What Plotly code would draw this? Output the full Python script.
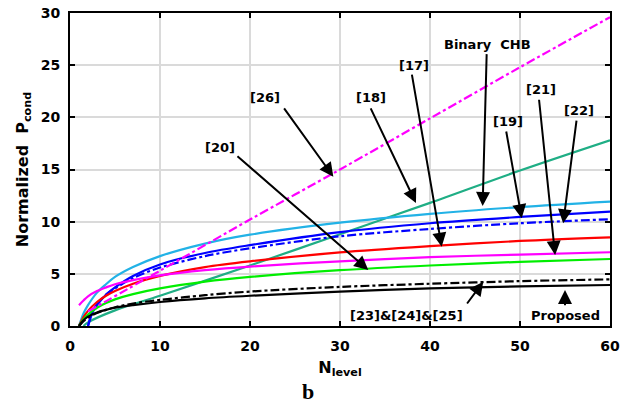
import plotly.graph_objects as go

# ---- data ----
N = [1, 1.5, 2, 3, 4, 5, 7, 10, 15, 20, 30, 40, 50, 60]
cyan = [0, 1.2, 2.0, 3.2, 4.0, 4.7, 5.65, 6.7, 7.9, 8.75, 9.9, 10.75, 11.4, 11.92]
red = [0, 0.85, 1.45, 2.3, 2.9, 3.35, 4.05, 4.8, 5.65, 6.2, 7.05, 7.65, 8.15, 8.5]
magenta = [2.0, 2.45, 2.85, 3.35, 3.7, 4.0, 4.4, 4.85, 5.35, 5.7, 6.2, 6.6, 6.85, 7.07]
green = [0, 0.65, 1.1, 1.75, 2.2, 2.55, 3.05, 3.6, 4.25, 4.7, 5.35, 5.8, 6.15, 6.42]
black = [0, 0.55, 0.9, 1.3, 1.55, 1.75, 2.0, 2.3, 2.65, 2.9, 3.3, 3.6, 3.8, 3.93]
black_dd = [0, 0.45, 0.8, 1.25, 1.55, 1.8, 2.15, 2.5, 2.95, 3.3, 3.75, 4.05, 4.3, 4.47]

N_blue = [2, 2.5, 3, 4, 5, 7, 10, 15, 20, 30, 40, 50, 60]
blue = [0, 1.3, 2.0, 3.0, 3.7, 4.8, 5.9, 7.0, 7.75, 9.0, 9.85, 10.45, 10.96]
blue_dd = [0, 1.4, 2.1, 3.0, 3.6, 4.6, 5.6, 6.7, 7.45, 8.6, 9.3, 9.85, 10.23]

N_teal = [1.5, 2, 5, 10, 20, 30, 40, 50, 60]
teal = [0, 0.35, 1.5, 2.9, 5.8, 8.8, 11.8, 14.9, 17.8]

N_mdd = [2, 10, 20, 30, 40, 50, 60]
magenta_dd = [1.4, 5.3, 10.2, 15.0, 19.9, 24.8, 29.6]

x_ticks = [0, 10, 20, 30, 40, 50, 60]
y_ticks = [0, 5, 10, 15, 20, 25, 30]

# annotations: label, label pos (x, y), arrow tail (x, y), arrow tip (x, y)
labels = ["[26]", "[20]", "[18]", "[17]", "Binary  CHB", "[19]", "[21]", "[22]",
          "[23]&[24]&[25]", "Proposed"]
label_x = [21.67, 16.67, 33.44, 38.22, 46.44, 48.63, 52.33, 56.59, 37.41, 55.11]
label_y = [21.86, 17.07, 21.9, 25.0, 26.94, 19.59, 22.69, 20.61, 0.99, 0.99]
tail_x = [23.67, 18.44, 33.33, 37.96, 46.3, 48.44, 52.1, 56.3, 44.0, 55.0]
tail_y = [21.0, 16.39, 21.0, 24.23, 26.2, 18.79, 21.83, 19.82, 2.01, 1.85]
tip_x = [29.26, 33.14, 38.44, 41.3, 45.85, 50.19, 53.9, 54.8, 45.92, 55.0]
tip_y = [14.31, 5.37, 11.79, 7.6, 11.5, 10.33, 6.81, 9.85, 4.25, 3.45]

DD = "9px,3px,3px,3px"
W = 2.2
SH = dict(shape="spline", smoothing=0.9)

fig = go.Figure()
series = [
    (N_teal, teal, "#1fae85", "solid"),
    (N, cyan, "#22b2e6", "solid"),
    (N_blue, blue, "#0000ff", "solid"),
    (N_blue, blue_dd, "#0000ff", DD),
    (N, red, "#ff0000", "solid"),
    (N, magenta, "#ff00ff", "solid"),
    (N, green, "#00ee00", "solid"),
    (N, black_dd, "#000000", DD),
    (N, black, "#000000", "solid"),
    (N_mdd, magenta_dd, "#ff00ff", DD),
]
for xs, ys, col, dash in series:
    fig.add_trace(go.Scatter(x=xs, y=ys, mode="lines",
                             line=dict(color=col, width=W, dash=dash, **SH),
                             showlegend=False, hoverinfo="skip"))

FONT = "DejaVu Sans"
for i in range(len(labels)):
    fig.add_annotation(x=tip_x[i], y=tip_y[i], ax=tail_x[i], ay=tail_y[i],
                       xref="x", yref="y", axref="x", ayref="y", text="",
                       showarrow=True, arrowhead=2, arrowsize=1.4, arrowwidth=2,
                       arrowcolor="black")
    fig.add_annotation(x=label_x[i], y=label_y[i], xref="x", yref="y",
                       text="<b>" + labels[i] + "</b>", showarrow=False,
                       font=dict(family=FONT, size=13, color="black"))

fig.add_annotation(x=0.44, y=-0.21, xref="paper", yref="paper", text="<b>b</b>",
                   showarrow=False, yanchor="middle", xanchor="center",
                   font=dict(family="Liberation Serif", size=22, color="black"))

axis_common = dict(showline=True, linewidth=2, linecolor="black", mirror="ticks",
                   ticks="inside", ticklen=5, tickwidth=2, tickcolor="black",
                   showgrid=True, gridcolor="#dadada", gridwidth=1.5,
                   zeroline=False,
                   tickfont=dict(family=FONT, size=14, color="black", weight="bold"))

fig.update_xaxes(range=[0, 60], tickvals=x_ticks, ticklabelstandoff=6,
                 title=dict(text="<b>N<sub>level</sub></b>", standoff=9,
                            font=dict(family=FONT, size=16, color="black")),
                 **axis_common)
fig.update_yaxes(range=[0, 30], tickvals=y_ticks, ticklabelstandoff=5,
                 title=dict(text="<b>Normalized  P<sub>cond</sub></b>", standoff=8,
                            font=dict(family=FONT, size=16, color="black")),
                 **axis_common)

fig.update_layout(width=634, height=404,
                  margin=dict(l=70, r=24, t=13, b=78, autoexpand=False),
                  plot_bgcolor="white", paper_bgcolor="white",
                  showlegend=False)

fig.write_html("out.html")
